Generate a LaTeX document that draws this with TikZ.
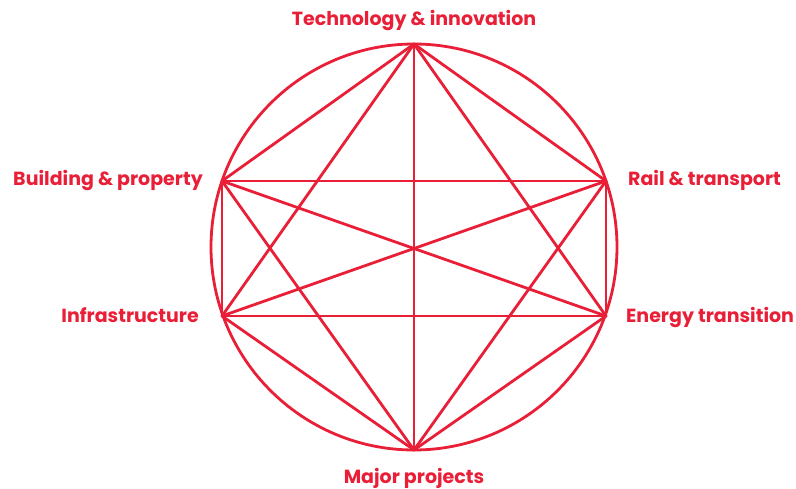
\documentclass[tikz,border=0pt]{standalone}
\usepackage{fontspec}
\setmainfont{Poppins}
\definecolor{brandred}{RGB}{233,30,55}
\begin{document}
\begin{tikzpicture}[x=1pt,y=-1pt,
  edge/.style={draw=brandred,line width=2.8pt,line cap=round},
  lab/.style={text=brandred,font=\fontsize{19}{22}\selectfont\bfseries,inner sep=0pt}]
\useasboundingbox (0,0) rectangle (796,489);
\coordinate (c) at (414,247);
\path (414,44) coordinate (t) (414,450) coordinate (b)
      (222,181) coordinate (lu) (606,181) coordinate (ru)
      (222,316) coordinate (ll) (606,316) coordinate (rl);
\draw[edge] (c) circle[radius=203];
\foreach \a/\b in {t/b,t/lu,t/ru,t/ll,t/rl,lu/ru,lu/ll,lu/rl,lu/b,ru/ll,ru/rl,ru/b,ll/rl,ll/b,rl/b}
  \draw[edge] (\a) -- (\b);
\node[lab,anchor=base] (nt) at (414,26) {Technology \& innovation};
\node[lab,anchor=base east] (nlu) at (203,186) {Building \& property};
\node[lab,anchor=base west] (nru) at (628,186) {Rail \& transport};
\node[lab,anchor=base east] (nll) at (199,323) {Infrastructure};
\node[lab,anchor=base west] (nrl) at (626,323) {Energy transition};
\node[lab,anchor=base] (nb) at (414,483) {Major projects};
\end{tikzpicture}
\end{document}
